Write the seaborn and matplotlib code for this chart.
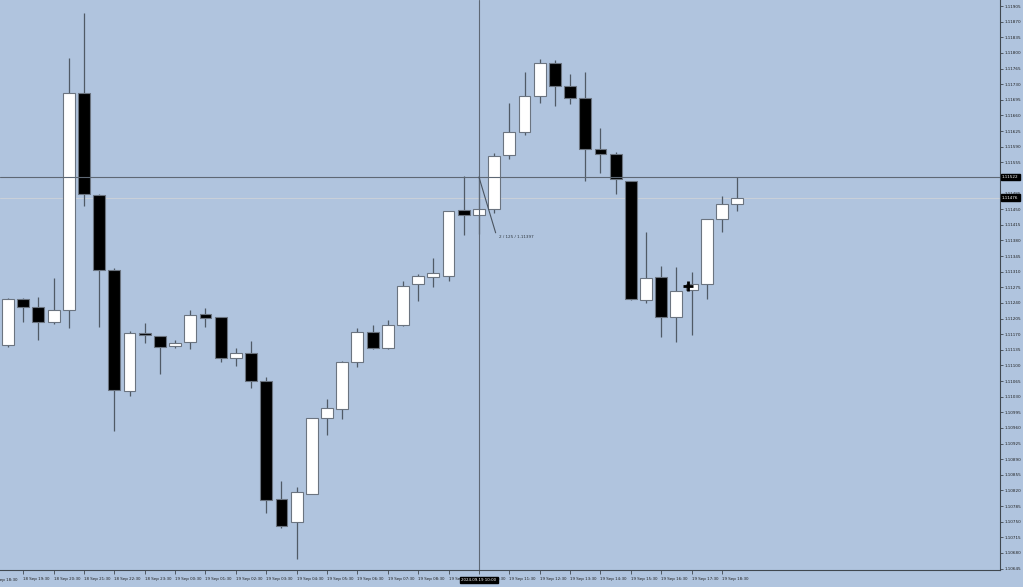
import matplotlib
matplotlib.use("Agg")
import matplotlib.pyplot as plt
import numpy as np
import pandas as pd
import seaborn as sns

# 30 minute bars, 18 Sep 19:00 -> 19 Sep 19:00
opens = [1.11146, 1.11248, 1.11231, 1.11197, 1.11224, 1.11711, 1.11482, 1.11313, 1.11043, 1.11172,
         1.11165, 1.11143, 1.11152, 1.11215, 1.11208, 1.11116, 1.11127, 1.11064, 1.10800, 1.10750,
         1.10813, 1.10983, 1.11003, 1.11108, 1.11174, 1.11139, 1.11190, 1.11282, 1.11299, 1.11301,
         1.11447, 1.11438, 1.11450, 1.11571, 1.11622, 1.11703, 1.11777, 1.11726, 1.11700, 1.11585,
         1.11574, 1.11513, 1.11246, 1.11298, 1.11208, 1.11269, 1.11282, 1.11428, 1.11462]
highs = [1.11252, 1.11252, 1.11254, 1.11296, 1.11788, 1.11890, 1.11483, 1.11318, 1.11178, 1.11194,
         1.11165, 1.11157, 1.11223, 1.11228, 1.11208, 1.11138, 1.11155, 1.11073, 1.10841, 1.10828,
         1.10982, 1.11024, 1.11110, 1.11183, 1.11190, 1.11202, 1.11289, 1.11305, 1.11340, 1.11445,
         1.11524, 1.11522, 1.11575, 1.11688, 1.11757, 1.11786, 1.11784, 1.11753, 1.11757, 1.11632,
         1.11579, 1.11513, 1.11399, 1.11323, 1.11320, 1.11309, 1.11428, 1.11479, 1.11522]
lows = [1.11142, 1.11197, 1.11158, 1.11193, 1.11184, 1.11458, 1.11187, 1.10952, 1.11031, 1.11151,
        1.11081, 1.11140, 1.11137, 1.11185, 1.11107, 1.11098, 1.11050, 1.10770, 1.10736, 1.10666,
        1.10813, 1.10943, 1.10979, 1.11097, 1.11136, 1.11137, 1.11188, 1.11245, 1.11276, 1.11290,
        1.11392, 1.11394, 1.11442, 1.11563, 1.11616, 1.11687, 1.11681, 1.11685, 1.11513, 1.11532,
        1.11483, 1.11246, 1.11240, 1.11164, 1.11152, 1.11168, 1.11249, 1.11399, 1.11446]
closes = [1.11248, 1.11231, 1.11198, 1.11224, 1.11711, 1.11483, 1.11313, 1.11046, 1.11172, 1.11169,
          1.11141, 1.11150, 1.11214, 1.11206, 1.11117, 1.11127, 1.11065, 1.10799, 1.10741, 1.10816,
          1.10982, 1.11004, 1.11108, 1.11174, 1.11140, 1.11190, 1.11277, 1.11300, 1.11306, 1.11445,
          1.11436, 1.11450, 1.11569, 1.11623, 1.11703, 1.11777, 1.11726, 1.11698, 1.11585, 1.11574,
          1.11518, 1.11249, 1.11296, 1.11208, 1.11267, 1.11282, 1.11428, 1.11462, 1.11476]

first_label = "18 Sep 18:30"  # sits on bar -1, cut off by the left edge
time_labels = ["18 Sep 19:30", "18 Sep 20:30", "18 Sep 21:30", "18 Sep 22:30",
               "18 Sep 23:30", "19 Sep 00:30", "19 Sep 01:30", "19 Sep 02:30", "19 Sep 03:30",
               "19 Sep 04:30", "19 Sep 05:30", "19 Sep 06:30", "19 Sep 07:30", "19 Sep 08:30",
               "19 Sep 09:30", "19 Sep 10:30", "19 Sep 11:30", "19 Sep 12:30", "19 Sep 13:30",
               "19 Sep 14:30", "19 Sep 15:30", "19 Sep 16:30", "19 Sep 17:30", "19 Sep 18:30"]
price_ticks = np.round(np.arange(1.10645, 1.11906, 0.00035), 5)

bid = 1.11476
cross_bar = 31
cross_price = 1.11522
cross_time = "2024.09.19 10:00"
measure_end = (32.1, 1.11397)
measure_text = "2 / 125 / 1.11397"

bg = "#B0C4DE"
fs = 2.9

bars = pd.DataFrame({"open": opens, "high": highs, "low": lows, "close": closes})
bars["x"] = np.arange(len(bars))
bars["up"] = bars["close"] >= bars["open"]
bars["bottom"] = bars[["open", "close"]].min(axis=1)
bars["height"] = (bars["close"] - bars["open"]).abs().clip(lower=0.00003)

sns.set_theme(style="ticks", rc={"axes.facecolor": bg, "figure.facecolor": bg})
plt.rcParams["font.family"] = ["DejaVu Sans"]

fig = plt.figure(figsize=(10.23, 5.87), dpi=100)
ax = fig.add_axes([0, 17 / 587, 1000 / 1023, 570 / 587])

#wicks then bodies
ax.vlines(bars["x"], bars["low"], bars["high"], color="#505a66", lw=0.9, zorder=2)
ax.bar(bars["x"], bars["height"], bottom=bars["bottom"], width=0.78,
       color=np.where(bars["up"], "white", "black"), edgecolor="#6b7480", linewidth=0.8, zorder=3)

for s in ["top", "left"]:
    ax.spines[s].set_visible(False)
for s in ["right", "bottom"]:
    ax.spines[s].set_color("#404850")
    ax.spines[s].set_linewidth(0.8)

ax.yaxis.tick_right()
ax.set_yticks(price_ticks)
# the 1.11520 label is hidden under the crosshair price box
ax.set_yticklabels(["" if abs(p - 1.1152) < 1e-7 else f"{p:.5f}" for p in price_ticks])
ax.tick_params(axis="y", length=2, width=0.6, pad=1.5, labelsize=3.0, colors="#404850", labelcolor="#202020")

ax.set_xticks(np.arange(1, 48, 2))
ax.set_xticklabels(time_labels, ha="left")
ax.tick_params(axis="x", length=3, width=0.6, pad=2, labelsize=fs, colors="#404850", labelcolor="#202020")
ax.grid(False)

ax.set_xlim(-0.527, 65.3)
ax.set_ylim(1.106417, 1.119185)

# label of bar -1, only its tail shows
ax.text(-1.1, -0.017, first_label, transform=ax.get_xaxis_transform(), fontsize=fs, color="#202020",
        va="center", ha="left", clip_on=False)

# bid line + crosshair
ax.axhline(bid, color="#c9d0d9", lw=0.8, zorder=1)
ax.axhline(cross_price, color="#5e6874", lw=0.8, zorder=4)
ax.axvline(cross_bar, color="#5e6874", lw=0.8, zorder=4)

box = dict(fc="black", ec="black", pad=0.8)
ax.text(1.002, bid, f"{bid:.5f}", transform=ax.get_yaxis_transform(), fontsize=3.0, color="white",
        va="center", ha="left", bbox=box, clip_on=False, zorder=10)
ax.text(1.002, cross_price, f"{cross_price:.5f}", transform=ax.get_yaxis_transform(), fontsize=3.0,
        color="white", va="center", ha="left", bbox=box, clip_on=False, zorder=10)
ax.text(cross_bar, -0.017, cross_time, transform=ax.get_xaxis_transform(), fontsize=fs, color="white",
        va="center", ha="center", bbox=box, clip_on=False, zorder=10)

# measure tool
ax.plot([cross_bar, measure_end[0]], [cross_price, measure_end[1]], color="#4a5460", lw=0.8, zorder=5)
ax.text(measure_end[0] + 0.2, measure_end[1] - 0.00004, measure_text, fontsize=3.0, color="#303840",
        va="top", ha="left", zorder=5)

# mouse cursor
ax.plot(44.77, 1.11278, marker="+", ms=7, mew=2, color="black", zorder=6)

fig.savefig("out.png", dpi=100, facecolor=bg)
